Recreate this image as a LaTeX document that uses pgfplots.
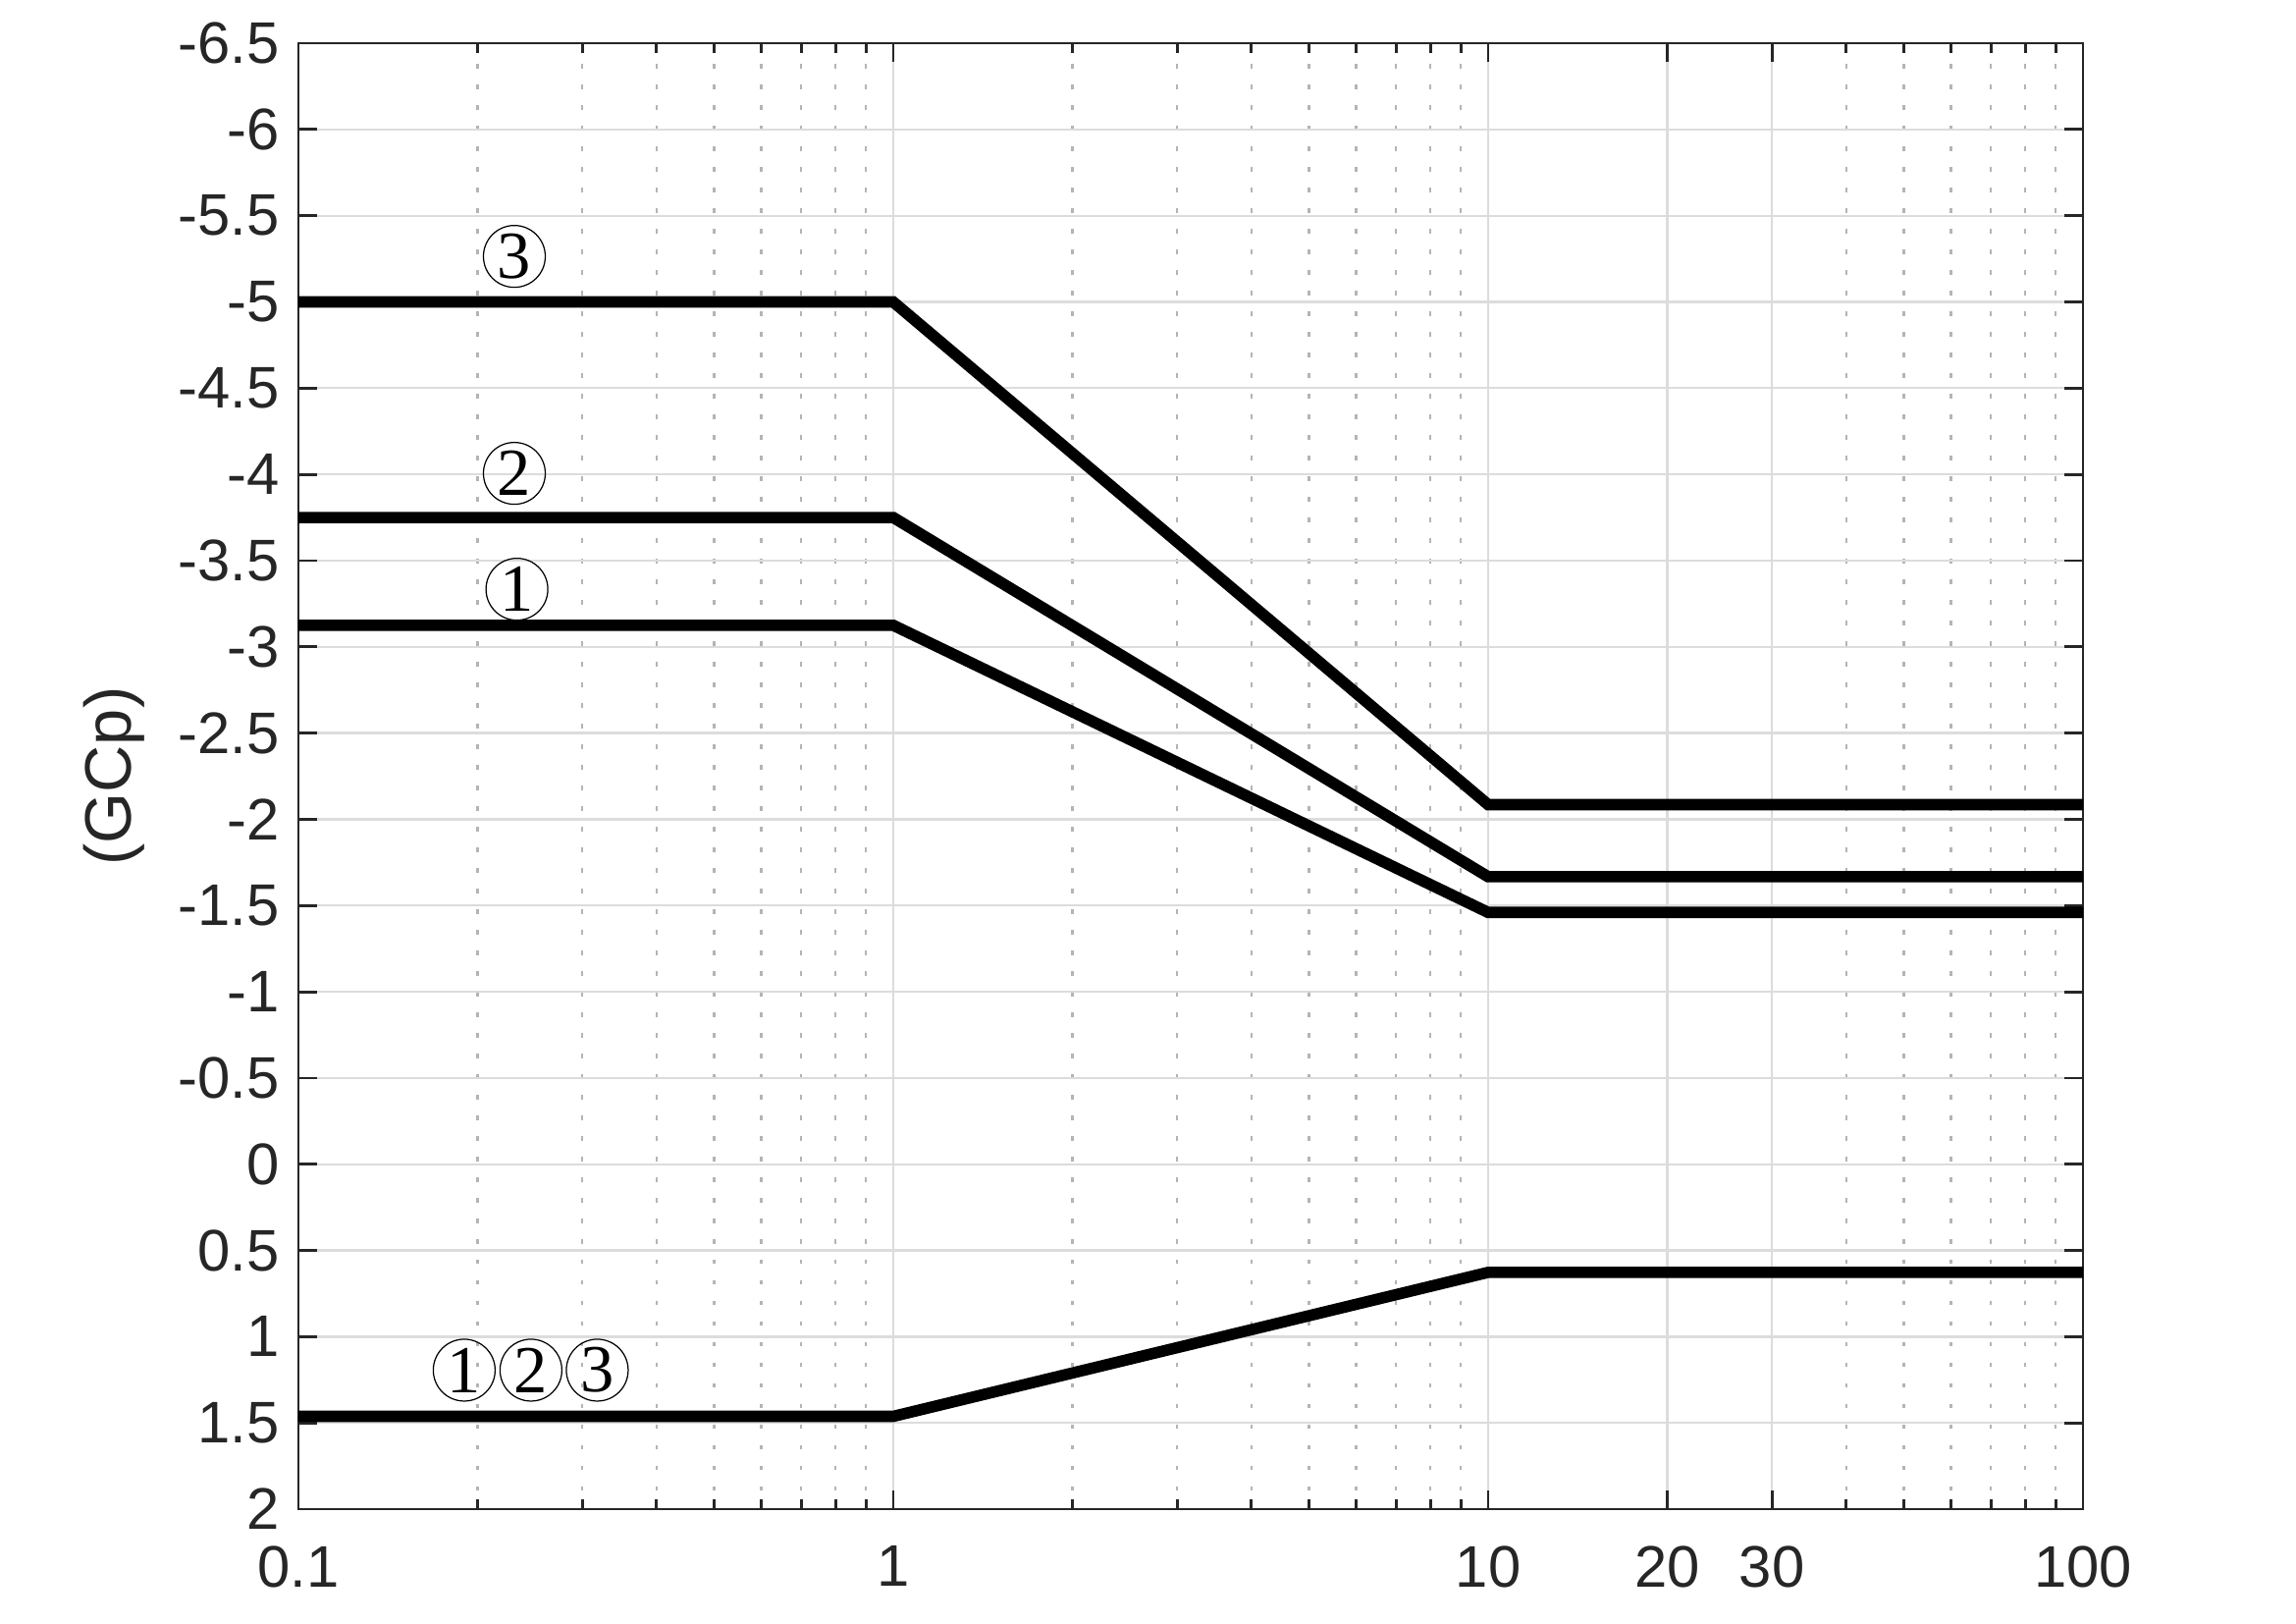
\documentclass[border=0pt]{standalone}
\usepackage{fontspec}
\setmainfont{Liberation Sans}
\newfontfamily\circfont{Liberation Serif}
\usepackage{pgfplots}
\pgfplotsset{compat=1.18}

\definecolor{axgray}{RGB}{38,38,38}
\definecolor{gridgray}{RGB}{220,220,220}
\definecolor{minorgray}{RGB}{180,180,180}

\tikzset{circnum/.style={circle, draw, line width=0.35pt, inner sep=0pt,
  minimum size=0.63cm, font=\circfont\fontsize{19.5}{20}\selectfont}}

\begin{document}
\begin{tikzpicture}
\begin{axis}[
  scale only axis,
  width=18.18cm, height=14.93cm,
  xmode=log,
  xmin=0.1, xmax=100,
  ymin=-6.5, ymax=2,
  y dir=reverse,
  xtick={0.1,1,10,20,30,100},
  xticklabels={0.1,1,10,20,30,100},
  minor xtick={0.2,0.3,0.4,0.5,0.6,0.7,0.8,0.9,2,3,4,5,6,7,8,9,40,50,60,70,80,90},
  ytick={-6.5,-6,-5.5,-5,-4.5,-4,-3.5,-3,-2.5,-2,-1.5,-1,-0.5,0,0.5,1,1.5,2},
  yticklabels={-6.5,-6,-5.5,-5,-4.5,-4,-3.5,-3,-2.5,-2,-1.5,-1,-0.5,0,0.5,1,1.5,2},
  tick align=inside,
  major tick length=0.19cm,
  minor tick length=0.1cm,
  xmajorgrids, ymajorgrids, xminorgrids,
  major grid style={gridgray, line width=0.65pt},
  minor grid style={minorgray, line width=0.65pt, dash pattern=on 0.045cm off 0.165cm},
  axis line style={axgray, line width=0.8pt},
  tick style={axgray, line width=0.8pt},
  tick label style={font=\fontsize{17}{19}\selectfont, text=axgray},
  yticklabel style={xshift=-0.07cm},
  xticklabel style={yshift=-0.25cm},
  ylabel={(GCp)},
  ylabel style={at={(axis description cs:-0.0935,0.5)}, anchor=base,
    font=\fontsize{19}{21}\selectfont, text=axgray},
]

% zone 3
\addplot[black, line width=3.3pt] coordinates {
  (0.1,-5) (1,-5) (10,-2.085) (100,-2.085)
};
% zone 2
\addplot[black, line width=3.3pt] coordinates {
  (0.1,-3.75) (1,-3.75) (10,-1.667) (100,-1.667)
};
% zone 1
\addplot[black, line width=3.3pt] coordinates {
  (0.1,-3.125) (1,-3.125) (10,-1.46) (100,-1.46)
};
% positive, all zones
\addplot[black, line width=3.3pt] coordinates {
  (0.1,1.462) (1,1.462) (10,0.627) (100,0.627)
};

\node[circnum] at (axis cs:0.2307,-5.264) {3};
\node[circnum] at (axis cs:0.2307,-4.006) {2};
\node[circnum] at (axis cs:0.233,-3.334) {1};
\node[circnum] at (axis cs:0.190,1.194) {1};
\node[circnum] at (axis cs:0.246,1.194) {2};
\node[circnum] at (axis cs:0.318,1.194) {3};
\end{axis}
\path (current axis.south west) ++(-3.04cm,-1.16cm) rectangle ++(23.39cm,16.53cm);
\end{tikzpicture}
\end{document}
